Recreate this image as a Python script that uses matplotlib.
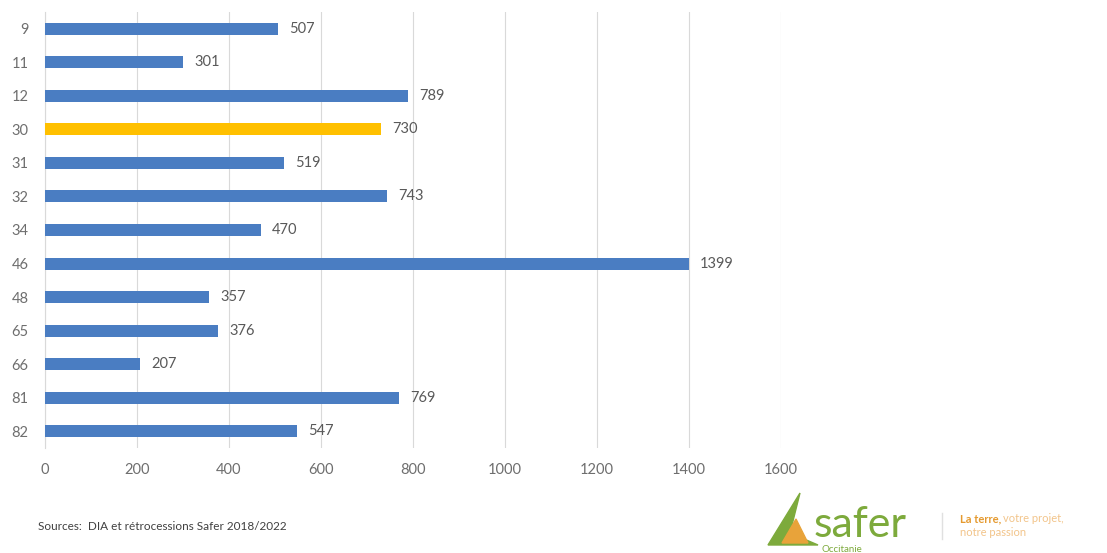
import matplotlib.pyplot as plt
from matplotlib.patches import Polygon

departements = ["9", "11", "12", "30", "31", "32", "34", "46", "48", "65", "66", "81", "82"]
valeurs = [507, 301, 789, 730, 519, 743, 470, 1399, 357, 376, 207, 769, 547]
highlight = "30"
xticks = [0, 200, 400, 600, 800, 1000, 1200, 1400, 1600]

plt.rcParams['font.family'] = ['Lato', 'DejaVu Sans']

fig = plt.figure(figsize=(11.07, 5.53), dpi=100)
ax = fig.add_axes([45 / 1107, 1 - 448 / 553, (781 - 45) / 1107, (448 - 12) / 553])

couleurs = ['#FFC000' if d == highlight else '#4A7DC2' for d in departements]
pos = list(range(len(departements)))
ax.barh(pos, valeurs, height=0.36, color=couleurs, zorder=3)

for p, v in zip(pos, valeurs):
    ax.annotate(str(v), (v, p), xytext=(8, 0), textcoords='offset points',
                va='center', ha='left', fontsize=10.5, color='#595959')

ax.set_xlim(0, 1600)
ax.set_ylim(len(departements) - 0.5, -0.5)
ax.set_yticks(pos)
ax.set_yticklabels(departements)
ax.set_xticks(xticks)
ax.grid(axis='x', color='#D9D9D9', linewidth=0.8, zorder=0)
for s in ['top', 'right', 'bottom']:
    ax.spines[s].set_visible(False)
ax.spines['left'].set_color('#D9D9D9')
ax.tick_params(axis='both', length=0, labelsize=10.5, labelcolor='#6E6E6E')
ax.tick_params(axis='x', pad=11)
ax.tick_params(axis='y', pad=12)

fig.text(38 / 1107, 1 - 527 / 553, "Sources:  DIA et rétrocessions Safer 2018/2022",
         fontsize=8.5, color='#404040', va='center')

# logo Safer Occitanie
logo = fig.add_axes([760 / 1107, 0, 347 / 1107, 70 / 553])
logo.set_xlim(0, 347)
logo.set_ylim(0, 70)
logo.axis('off')
logo.add_patch(Polygon([[8, 8], [40, 60], [30, 20], [58, 8]], closed=True, color='#7DAA3C'))
logo.add_patch(Polygon([[22, 10], [36, 34], [48, 10]], closed=True, color='#E8A33A'))
logo.text(54, 28, "safer", fontsize=31, color='#7DAA3C', va='center', ha='left')
logo.text(62, 4, "Occitanie", fontsize=7, color='#7DAA3C', va='center', ha='left')
logo.plot([182, 182], [14, 40], color='#E0E0E0', linewidth=1)
logo.text(200, 34, "La terre,", fontsize=8, color='#E59A2F', fontweight='bold', va='center')
logo.text(243, 34, "votre projet,", fontsize=8, color='#F2C48A', va='center')
logo.text(200, 20, "notre passion", fontsize=8, color='#F2C48A', va='center')

fig.savefig("out.png", dpi=100)
